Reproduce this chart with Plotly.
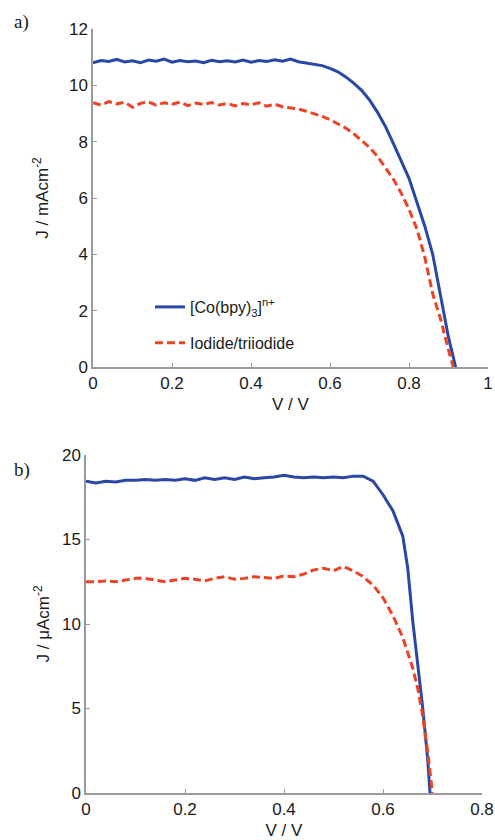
import plotly.graph_objects as go

# ---- Panel a) data ----
va_co = [0.00, 0.02, 0.04, 0.06, 0.08, 0.10, 0.12, 0.14, 0.16, 0.18, 0.20, 0.22, 0.24, 0.26,
         0.28, 0.30, 0.32, 0.34, 0.36, 0.38, 0.40, 0.42, 0.44, 0.46, 0.48, 0.50, 0.52, 0.54,
         0.56, 0.58, 0.60, 0.62, 0.64, 0.66, 0.68, 0.70, 0.72, 0.74, 0.76, 0.78, 0.80, 0.82,
         0.84, 0.86, 0.88, 0.90, 0.918]
ja_co = [10.80, 10.88, 10.85, 10.92, 10.83, 10.87, 10.80, 10.90, 10.86, 10.93, 10.82, 10.88,
         10.84, 10.86, 10.80, 10.89, 10.84, 10.87, 10.83, 10.90, 10.82, 10.88, 10.85, 10.91,
         10.86, 10.93, 10.84, 10.80, 10.76, 10.70, 10.60, 10.48, 10.30, 10.08, 9.82, 9.48,
         9.05, 8.55, 7.95, 7.30, 6.70, 5.85, 5.00, 4.00, 2.50, 1.05, 0.00]

va_i = [0.00, 0.02, 0.04, 0.06, 0.08, 0.10, 0.12, 0.14, 0.16, 0.18, 0.20, 0.22, 0.24, 0.26,
        0.28, 0.30, 0.32, 0.34, 0.36, 0.38, 0.40, 0.42, 0.44, 0.46, 0.48, 0.50, 0.52, 0.54,
        0.56, 0.58, 0.60, 0.62, 0.64, 0.66, 0.68, 0.70, 0.72, 0.74, 0.76, 0.78, 0.80, 0.82,
        0.84, 0.86, 0.88, 0.90, 0.912]
ja_i = [9.38, 9.30, 9.42, 9.34, 9.40, 9.22, 9.36, 9.41, 9.30, 9.38, 9.33, 9.40, 9.28, 9.37,
        9.32, 9.39, 9.30, 9.36, 9.27, 9.35, 9.31, 9.38, 9.26, 9.33, 9.24, 9.20, 9.16, 9.08,
        9.00, 8.90, 8.78, 8.64, 8.48, 8.28, 8.05, 7.80, 7.48, 7.10, 6.68, 6.18, 5.60, 4.90,
        3.90, 2.60, 1.70, 0.60, 0.00]

# ---- Panel b) data ----
vb_co = [0.00, 0.02, 0.04, 0.06, 0.08, 0.10, 0.12, 0.14, 0.16, 0.18, 0.20, 0.22, 0.24, 0.26,
         0.28, 0.30, 0.32, 0.34, 0.36, 0.38, 0.40, 0.42, 0.44, 0.46, 0.48, 0.50, 0.52, 0.54,
         0.56, 0.58, 0.60, 0.62, 0.64, 0.65, 0.66, 0.67, 0.68, 0.69, 0.695]
jb_co = [18.45, 18.35, 18.45, 18.40, 18.50, 18.50, 18.55, 18.50, 18.55, 18.50, 18.60, 18.50,
         18.65, 18.55, 18.65, 18.55, 18.70, 18.60, 18.65, 18.70, 18.80, 18.70, 18.65, 18.70,
         18.65, 18.70, 18.65, 18.75, 18.75, 18.45, 17.65, 16.70, 15.20, 13.30, 10.20, 7.80,
         5.10, 2.10, 0.00]

vb_i = [0.00, 0.02, 0.04, 0.06, 0.08, 0.10, 0.12, 0.14, 0.16, 0.18, 0.20, 0.22, 0.24, 0.26,
        0.28, 0.30, 0.32, 0.34, 0.36, 0.38, 0.40, 0.42, 0.44, 0.46, 0.48, 0.50, 0.52, 0.54,
        0.56, 0.58, 0.60, 0.62, 0.64, 0.66, 0.67, 0.68, 0.69, 0.70]
jb_i = [12.50, 12.50, 12.55, 12.50, 12.60, 12.70, 12.70, 12.60, 12.50, 12.60, 12.70, 12.65,
        12.55, 12.70, 12.80, 12.65, 12.70, 12.80, 12.75, 12.70, 12.85, 12.80, 12.95, 13.20,
        13.30, 13.15, 13.40, 13.15, 12.80, 12.30, 11.55, 10.50, 9.20, 7.40, 6.20, 4.60,
        2.50, 0.00]

names = ["[Co(bpy)<sub>3</sub>]<sup>n+</sup>", "Iodide/triiodide"]
ticks_a_x = [0, 0.2, 0.4, 0.6, 0.8, 1]
ticks_a_y = [0, 2, 4, 6, 8, 10, 12]
ticks_b_x = [0, 0.2, 0.4, 0.6, 0.8]
ticks_b_y = [0, 5, 10, 15, 20]

BLUE = "#2b47a6"
RED = "#ec4326"
FONT = "Liberation Sans, Arial, sans-serif"

fig = go.Figure()
fig.add_trace(go.Scatter(x=va_co, y=ja_co, mode="lines", name=names[0], legendgroup="co",
                         line=dict(color=BLUE, width=3), xaxis="x", yaxis="y"))
fig.add_trace(go.Scatter(x=va_i, y=ja_i, mode="lines", name=names[1], legendgroup="io",
                         line=dict(color=RED, width=3, dash="8px,4px"), xaxis="x", yaxis="y"))
fig.add_trace(go.Scatter(x=vb_co, y=jb_co, mode="lines", showlegend=False,
                         line=dict(color=BLUE, width=3), xaxis="x2", yaxis="y2"))
fig.add_trace(go.Scatter(x=vb_i, y=jb_i, mode="lines", showlegend=False,
                         line=dict(color=RED, width=3, dash="8px,4px"), xaxis="x2", yaxis="y2"))

axis_common = dict(showgrid=False, zeroline=False, showline=True, linecolor="#9a9a9a",
                   linewidth=1.5, ticks="inside", ticklen=4, tickcolor="#9a9a9a",
                   automargin=False,
                   tickfont=dict(family=FONT, size=17, color="#1a1a1a"))

fig.update_layout(
    width=495, height=840,
    margin=dict(l=0, r=0, t=0, b=0, autoexpand=False),
    paper_bgcolor="white", plot_bgcolor="white",
    font=dict(family=FONT, size=17, color="#1a1a1a"),
    xaxis=dict(domain=[93/495, 488/495], range=[0, 1], tickvals=ticks_a_x,
               ticktext=[f"{t:g}" for t in ticks_a_x], anchor="y",
               title=dict(text="V / V", font=dict(size=17), standoff=6), **axis_common),
    yaxis=dict(domain=[1-367/840, 1-29/840], range=[0, 12], tickvals=ticks_a_y, anchor="x",
               title=dict(text="J / mAcm<sup>-2</sup>", font=dict(size=17), standoff=16),
               **axis_common),
    xaxis2=dict(domain=[86/495, 482/495], range=[0, 0.8], tickvals=ticks_b_x,
                ticktext=[f"{t:g}" for t in ticks_b_x], anchor="y2",
                title=dict(text="V / V", font=dict(size=17), standoff=6), **axis_common),
    yaxis2=dict(domain=[1-793/840, 1-455/840], range=[0, 20], tickvals=ticks_b_y, anchor="x2",
                title=dict(text="J / μAcm<sup>-2</sup>", font=dict(size=17), standoff=8),
                **axis_common),
    legend=dict(x=150/495, y=1-290/840, xanchor="left", yanchor="top",
                bgcolor="rgba(0,0,0,0)", font=dict(family=FONT, size=16, color="#1a1a1a"),
                tracegroupgap=12),
    showlegend=True,
    annotations=[
        dict(text="a)", x=12/495, y=1-22/840, xref="paper", yref="paper", showarrow=False,
             xanchor="left", yanchor="middle",
             font=dict(family="Liberation Serif, Times New Roman, serif", size=19, color="#1a1a1a")),
        dict(text="b)", x=12/495, y=1-470/840, xref="paper", yref="paper", showarrow=False,
             xanchor="left", yanchor="middle",
             font=dict(family="Liberation Serif, Times New Roman, serif", size=19, color="#1a1a1a")),
    ],
)

fig.write_html("out.html")
